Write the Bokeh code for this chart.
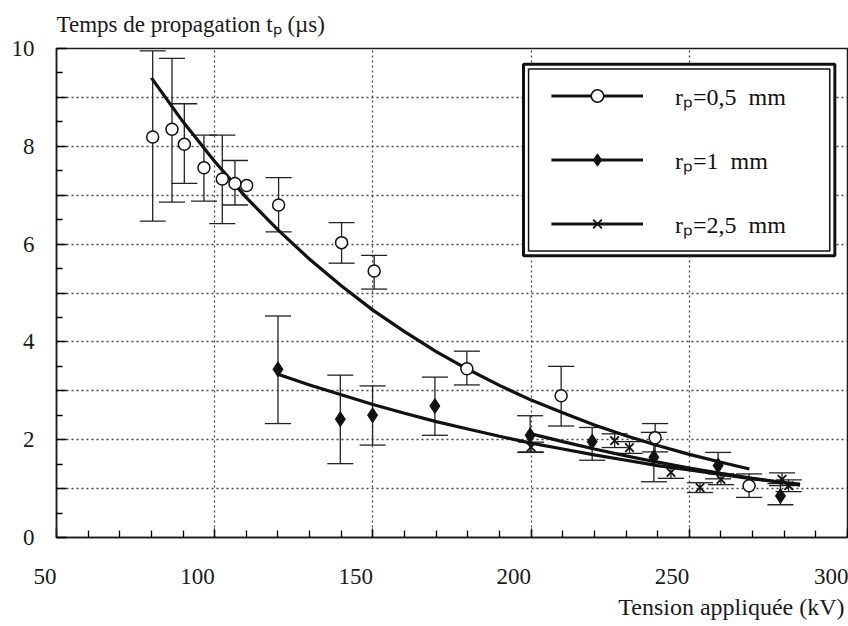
from bokeh.plotting import figure
from bokeh.models import (Range1d, FixedTicker, Whisker, TeeHead, ColumnDataSource,
                          Legend, LegendItem, BoxAnnotation, Title)
from bokeh.embed import file_html
from bokeh.resources import INLINE

nan = float("nan")

# r_p = 0,5 mm  (open circles)
V_05 = [80.4, 86.5, 90.4, 96.6, 102.4, 106.4, 110.1, 120.2, 140.1, 150.4, 179.7, 209.5, 239.2, 268.9]
t_05 = [8.19, 8.35, 8.04, 7.56, 7.33, 7.24, 7.20, 6.80, 6.03, 5.45, 3.45, 2.90, 2.04, 1.06]
up_05 = [9.95, 9.80, 8.87, 8.23, 8.23, 7.71, nan, 7.36, 6.44, 5.77, 3.81, 3.50, 2.33, 1.30]
lo_05 = [6.47, 6.86, 7.24, 6.88, 6.42, 6.80, nan, 6.25, 5.61, 5.08, 3.12, 2.28, 1.75, 0.82]
fitV_05 = [80, 90, 100, 110, 120, 130, 140, 150, 160, 170, 180, 190, 200, 210, 220, 230, 240, 250, 260, 269]
fitT_05 = [9.40, 8.50, 7.69, 6.95, 6.29, 5.69, 5.15, 4.65, 4.21, 3.80, 3.44, 3.11, 2.81, 2.55, 2.30, 2.08, 1.88, 1.70, 1.54, 1.40]

# r_p = 1 mm  (filled diamonds)
V_1 = [120.0, 139.7, 149.9, 169.6, 199.7, 219.3, 238.8, 259.1, 278.8]
t_1 = [3.44, 2.42, 2.50, 2.69, 2.09, 1.96, 1.64, 1.47, 0.85]
up_1 = [4.53, 3.32, 3.10, 3.28, 2.49, 2.25, 2.15, 1.74, 1.10]
lo_1 = [2.33, 1.51, 1.89, 2.09, 1.74, 1.58, 1.14, 1.20, 0.67]
fitV_1 = [120, 130, 140, 150, 160, 170, 180, 190, 200, 210, 220, 230, 240, 250, 260, 270, 280, 285]
fitT_1 = [3.34, 3.12, 2.92, 2.72, 2.54, 2.37, 2.22, 2.07, 1.93, 1.81, 1.69, 1.58, 1.47, 1.38, 1.29, 1.20, 1.12, 1.09]

# r_p = 2,5 mm  (crosses)
V_25 = [200.0, 226.4, 231.1, 244.2, 253.4, 260.0, 279.3, 281.4]
t_25 = [1.85, 1.98, 1.84, 1.33, 1.02, 1.19, 1.19, 1.06]
up_25 = [1.95, 2.12, 1.96, 1.45, 1.12, 1.30, 1.32, 1.18]
lo_25 = [1.75, 1.84, 1.72, 1.21, 0.92, 1.08, 1.06, 0.94]
fitV_25 = [200, 210, 220, 230, 240, 250, 260, 270, 280, 285]
fitT_25 = [2.12, 1.96, 1.81, 1.67, 1.54, 1.42, 1.31, 1.21, 1.12, 1.07]

x_ticks = [50, 100, 150, 200, 250, 300]
x_tick_labels = ["50", "100", "150", "200", "250", "300"]
y_ticks = [0, 1, 2, 3, 4, 5, 6, 7, 8, 9, 10]
y_tick_labels = ["0", "", "2", "", "4", "", "6", "", "8", "", "10"]

labels = ["r\u209a=0,5  mm", "r\u209a=1  mm", "r\u209a=2,5  mm"]
title_text = "Temps de propagation t\u209a (\u00b5s)"
xlabel_text = "Tension appliqu\u00e9e (kV)"

FONT = "Liberation Serif"
INK = "#1a1a1a"

p = figure(width=848, height=626, output_backend="svg", toolbar_location=None,
           x_range=Range1d(50, 300), y_range=Range1d(0, 10),
           min_border_left=56, min_border_right=1, min_border_top=48, min_border_bottom=89)
p.background_fill_color = "white"
p.border_fill_color = "white"
p.outline_line_color = INK
p.outline_line_width = 1.5

# title (top-left)
p.title.text = title_text
p.title.align = "left"
p.title.offset = 0
p.title.standoff = 20
p.title.vertical_align = "top"
p.title.text_font = FONT
p.title.text_font_size = "23px"
p.title.text_font_style = "normal"
p.title.text_color = INK

# x axis; labels sit to the left of their tick (right-aligned), as in the scan:
# each label is padded on the right with no-break spaces of the same width
# (the last one is held against the right edge of the canvas anyway)
def right_aligned(lbl, last):
    return lbl if last else lbl + "\u00a0" * (2 * len(lbl))

p.xaxis.ticker = FixedTicker(ticks=x_ticks, minor_ticks=list(range(50, 301, 10)))
p.xaxis.major_label_overrides = {t: right_aligned(l, i == len(x_ticks) - 1)
                                 for i, (t, l) in enumerate(zip(x_ticks, x_tick_labels))}
p.xaxis.major_label_text_font = FONT
p.xaxis.major_label_text_font_size = "23px"
p.xaxis.major_label_text_color = INK
p.xaxis.major_label_standoff = 26
p.xaxis.major_tick_in = 9
p.xaxis.major_tick_out = 0
p.xaxis.minor_tick_in = 7
p.xaxis.minor_tick_out = 0
p.xaxis.axis_line_width = 1.5
p.xaxis.axis_line_color = INK
p.xaxis.major_tick_line_width = 1.3
p.xaxis.minor_tick_line_width = 1.3

# x axis title, right aligned
p.add_layout(Title(text=xlabel_text, align="right", offset=3, standoff=0,
                   text_font=FONT, text_font_size="24px", text_font_style="normal",
                   text_color=INK), "below")

# y axis
p.yaxis.ticker = FixedTicker(ticks=y_ticks, minor_ticks=[i + 0.5 for i in range(10)])
p.yaxis.major_label_overrides = {t: l for t, l in zip(y_ticks, y_tick_labels)}
p.yaxis.major_label_text_font = FONT
p.yaxis.major_label_text_font_size = "23px"
p.yaxis.major_label_text_color = INK
p.yaxis.major_label_standoff = 22
p.yaxis.major_tick_in = 10
p.yaxis.major_tick_out = 0
p.yaxis.minor_tick_in = 6
p.yaxis.minor_tick_out = 0
p.yaxis.axis_line_width = 1.5
p.yaxis.axis_line_color = INK
p.yaxis.major_tick_line_width = 1.5
p.yaxis.minor_tick_line_width = 1.3

# grids
p.ygrid.ticker = FixedTicker(ticks=[1, 2, 3, 4, 5, 6, 7, 8, 9])
p.xgrid.ticker = FixedTicker(ticks=[100, 150, 200, 250])
for g in (p.xgrid, p.ygrid):
    g.grid_line_color = "#444"
    g.grid_line_dash = "2 3"
    g.grid_line_width = 1.3

# error bars
def add_err(xs, up, lo):
    src = ColumnDataSource(dict(x=xs, up=up, lo=lo))
    w = Whisker(source=src, base="x", upper="up", lower="lo", dimension="height",
                line_color="#222", line_width=1.3,
                upper_head=TeeHead(size=26, line_color="#222", line_width=1.3),
                lower_head=TeeHead(size=26, line_color="#222", line_width=1.3))
    p.add_layout(w)

add_err(V_05, up_05, lo_05)
add_err(V_1, up_1, lo_1)
add_err(V_25, up_25, lo_25)

# fit curves
c1 = p.line(fitV_05, fitT_05, line_color="#111", line_width=3.2)
c2 = p.line(fitV_1, fitT_1, line_color="#111", line_width=3.2)
c3 = p.line(fitV_25, fitT_25, line_color="#111", line_width=3.2)

# points
s1 = p.scatter(V_05, t_05, marker="circle", size=12, fill_color="white", line_color="#111", line_width=1.5)
s2 = p.scatter(V_1, t_1, marker="diamond", size=15, fill_color="#111", line_color="#111", line_width=1)
s3 = p.scatter(V_25, t_25, marker="x", size=12, line_color="#111", line_width=1.8)

# legend frame (double border)
outer = BoxAnnotation(left=197.6, right=296.0, top=9.68, bottom=5.76,
                      fill_color="white", fill_alpha=1, line_color="#111", line_alpha=1, line_width=3)
inner = BoxAnnotation(left=199.2, right=294.4, top=9.58, bottom=5.86,
                      fill_alpha=0, line_color="#111", line_alpha=1, line_width=1.5)
p.add_layout(outer)
p.add_layout(inner)

legend = Legend(items=[LegendItem(label=labels[0], renderers=[c1, s1]),
                       LegendItem(label=labels[1], renderers=[c2, s2]),
                       LegendItem(label=labels[2], renderers=[c3, s3])],
                location="top_right", margin=14, padding=17,
                glyph_width=92, glyph_height=31, label_height=31, label_width=141,
                label_standoff=32, spacing=31,
                label_text_font=FONT, label_text_font_size="24px", label_text_color="#111",
                background_fill_alpha=0, border_line_alpha=0)
p.add_layout(legend)

open("out.html", "w").write(file_html(p, INLINE))
